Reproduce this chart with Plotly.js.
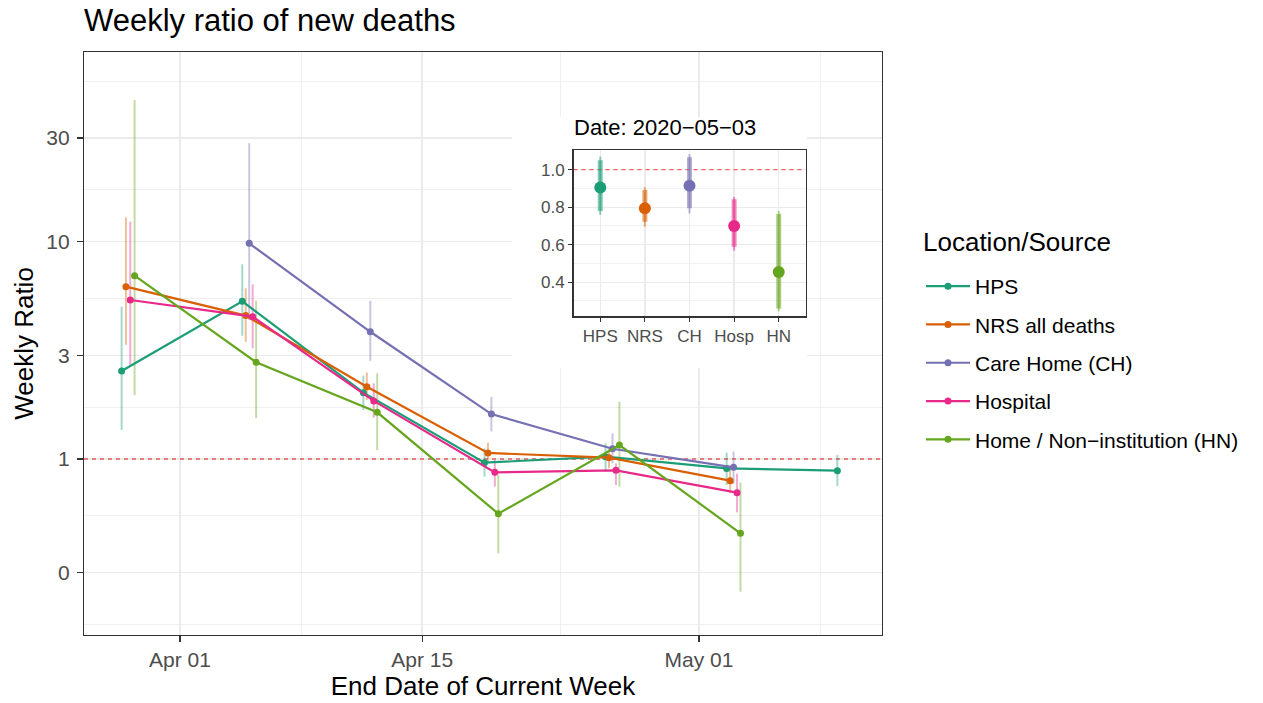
<!DOCTYPE html>
<html><head><meta charset="utf-8">
<script src="https://cdn.plot.ly/plotly-3.0.1.min.js"></script>
<style>html,body{margin:0;padding:0;background:#fff}</style>
</head><body><div id="chart" style="width:1263px;height:703px"></div>
<script>
// ---- data ----
const weekDates = ['2020-03-29','2020-04-05','2020-04-12','2020-04-19','2020-04-26','2020-05-03','2020-05-09'];
const seriesNames = ['HPS','NRS all deaths','Care Home (CH)','Hospital','Home / Non\u2212institution (HN)'];
const seriesColors = ['#1B9E77','#D95F02','#7570B3','#E7298A','#66A61E'];

const hpsRatio = [2.54, 5.32, 2.02, 0.962, 1.025, 0.905, 0.884];
const hpsLo    = [1.36, 3.69, 1.68, 0.83, 0.874, 0.76, 0.751];
const hpsHi    = [5.02, 7.87, 2.42, 1.12, 1.18, 1.07, 1.043];

const nrsRatio = [6.21, 4.57, 2.15, 1.066, 1.014, 0.795, null];
const nrsLo    = [3.35, 3.46, 1.87, 0.96, 0.906, 0.696, null];
const nrsHi    = [12.95, 6.1, 2.50, 1.19, 1.12, 0.906, null];

const chRatio  = [null, 9.83, 3.85, 1.61, 1.115, 0.915, null];
const chLo     = [null, 4.36, 2.83, 1.34, 0.955, 0.767, null];
const chHi     = [null, 28.4, 5.35, 1.93, 1.31, 1.082, null];

const hospRatio = [5.39, 4.52, 1.85, 0.868, 0.887, 0.70, null];
const hospLo    = [2.71, 3.23, 1.55, 0.746, 0.759, 0.568, null];
const hospHi    = [12.36, 6.37, 2.23, 0.99, 0.955, 0.856, null];

const hnRatio = [6.98, 2.79, 1.64, 0.56, 1.16, 0.455, null];
const hnLo    = [1.97, 1.54, 1.10, 0.368, 0.746, 0.245, null];
const hnHi    = [44.9, 5.35, 2.48, 0.844, 1.835, 0.78, null];

const insetDate = '2020-05-03';
const insetLabels = ['HPS','NRS','CH','Hosp','HN'];
const insetInnerLo = [0.78, 0.723, 0.794, 0.589, 0.26];
const insetInnerHi = [1.05, 0.892, 1.066, 0.842, 0.764];

const xTickDates = ['2020-04-01','2020-04-15','2020-05-01'];
const xTickLabels = ['Apr 01','Apr 15','May 01'];
const xMinorDates = ['2020-04-08','2020-04-23','2020-05-08'];
const yTickValues = [0.3, 1, 3, 10, 30];
const yTickLabels = ['0','1','3','10','30'];
const yMinorValues = [0.1734, 0.5477, 1.732, 5.477, 17.32, 54.77];
const insetYTicks = [0.4, 0.6, 0.8, 1.0];
const insetYTickLabels = ['0.4','0.6','0.8','1.0'];
const insetYMinor = [0.3, 0.5, 0.7, 0.9, 1.1];

// ---- build ----
const DAY = 86400000;
function rgba(hex, a){
  const n = parseInt(hex.slice(1),16);
  return 'rgba(' + ((n>>16)&255) + ',' + ((n>>8)&255) + ',' + (n&255) + ',' + a + ')';
}
const series = [
  {ratio: hpsRatio, lo: hpsLo, hi: hpsHi},
  {ratio: nrsRatio, lo: nrsLo, hi: nrsHi},
  {ratio: chRatio, lo: chLo, hi: chHi},
  {ratio: hospRatio, lo: hospLo, hi: hospHi},
  {ratio: hnRatio, lo: hnLo, hi: hnHi}
];
series.forEach((s,i)=>{ s.name = seriesNames[i]; s.color = seriesColors[i]; });

const dateMs = weekDates.map(d => Date.parse(d));
const xPos = series.map(() => []);
weekDates.forEach((d, j) => {
  const present = [];
  series.forEach((s, i) => { if (s.ratio[j] != null) present.push(i); });
  const n = present.length;
  present.forEach((i, k) => { xPos[i][j] = dateMs[j] + (k - (n - 1) / 2) * DAY / n; });
});

const traces = [];
// error bars (below lines)
series.forEach((s, i) => {
  const xs = [], ys = [];
  weekDates.forEach((d, j) => {
    if (s.ratio[j] != null) { xs.push(xPos[i][j], xPos[i][j], null); ys.push(s.lo[j], s.hi[j], null); }
  });
  traces.push({type:'scatter', mode:'lines', x:xs, y:ys, xaxis:'x', yaxis:'y',
    line:{color:rgba(s.color,0.4), width:2}, showlegend:false, hoverinfo:'skip'});
});
// lines + points
series.forEach((s, i) => {
  const xs = [], ys = [];
  weekDates.forEach((d, j) => { if (s.ratio[j] != null) { xs.push(xPos[i][j]); ys.push(s.ratio[j]); } });
  traces.push({type:'scatter', mode:'lines+markers', name:s.name, legendgroup:s.name,
    x:xs, y:ys, xaxis:'x', yaxis:'y',
    line:{color:s.color, width:2.2}, marker:{color:s.color, size:7}});
});

// inset
const jIn = weekDates.indexOf(insetDate);
series.forEach((s, i) => {
  traces.push({type:'scatter', mode:'lines', x:[insetLabels[i], insetLabels[i]], y:[s.lo[jIn], s.hi[jIn]],
    xaxis:'x2', yaxis:'y2', line:{color:rgba(s.color,0.5), width:2}, showlegend:false, hoverinfo:'skip'});
  traces.push({type:'scatter', mode:'lines', x:[insetLabels[i], insetLabels[i]], y:[insetInnerLo[i], insetInnerHi[i]],
    xaxis:'x2', yaxis:'y2', line:{color:rgba(s.color,0.55), width:5}, showlegend:false, hoverinfo:'skip'});
});
traces.push({type:'scatter', mode:'markers', x:insetLabels, y:series.map(s => s.ratio[jIn]),
  xaxis:'x2', yaxis:'y2', marker:{color:seriesColors, size:12}, showlegend:false, hoverinfo:'skip'});

// geometry
const L = 84, R = 882, T = 52, B = 635;
const xRange = [Date.parse('2020-04-01') - 5.55*DAY, Date.parse('2020-05-01') + 10.58*DAY];
const yRange = [-0.81, 1.873];
function pxToX(px){ return xRange[0] + (px - L)/(R - L)*(xRange[1]-xRange[0]); }
function pxToY(py){ return Math.pow(10, yRange[0] + (B - py)/(B - T)*(yRange[1]-yRange[0])); }
function px2paperX(px){ return (px - L)/(R - L); }
function px2paperY(py){ return (B - py)/(B - T); }

const axisCommon = {
  showline:true, mirror:true, linecolor:'#333333', linewidth:1.1,
  ticks:'outside', ticklen:6, tickwidth:1.1, tickcolor:'#333333',
  showgrid:true, gridcolor:'#EBEBEB', gridwidth:1.5, zeroline:false
};

const layout = {
  width:1263, height:703,
  margin:{l:L, r:1263-R, t:T, b:703-B, pad:0},
  paper_bgcolor:'#ffffff', plot_bgcolor:'#ffffff',
  font:{family:'Liberation Sans, Arial, sans-serif', color:'#000000'},
  title:{text:'Weekly ratio of new deaths', x:px2paperX(84), xref:'paper', xanchor:'left',
    y:1-20/703, yref:'container', yanchor:'middle', font:{size:31, color:'#000000'}},
  xaxis:Object.assign({}, axisCommon, {
    type:'date', range:xRange, domain:[0,1], anchor:'y',
    tickmode:'array', tickvals:xTickDates.map(d=>Date.parse(d)), ticktext:xTickLabels,
    tickfont:{size:21, color:'#4D4D4D'},
    minor:{tickmode:'array', tickvals:xMinorDates.map(d=>Date.parse(d)), showgrid:true, gridcolor:'#EBEBEB', gridwidth:0.8, ticks:''},
    title:{text:'End Date of Current Week', font:{size:26, color:'#000000'}, standoff:6}
  }),
  yaxis:Object.assign({}, axisCommon, {
    type:'log', range:yRange, domain:[0,1], anchor:'x',
    tickmode:'array', tickvals:yTickValues, ticktext:yTickLabels,
    tickfont:{size:21, color:'#4D4D4D'}, ticklabelstandoff:3,
    minor:{tickmode:'array', tickvals:yMinorValues, showgrid:true, gridcolor:'#EBEBEB', gridwidth:0.8, ticks:''},
    title:{text:'Weekly Ratio', font:{size:26, color:'#000000'}, standoff:5}
  }),
  xaxis2:Object.assign({}, axisCommon, {
    type:'category', categoryorder:'array', categoryarray:insetLabels,
    range:[-0.6, 4.6], domain:[px2paperX(573.5), px2paperX(805.5)], anchor:'y2',
    linewidth:1.5, ticklen:4, gridwidth:1.3, tickfont:{size:17, color:'#4D4D4D'}
  }),
  yaxis2:Object.assign({}, axisCommon, {
    range:[0.22, 1.105], domain:[px2paperY(316), px2paperY(150)], anchor:'x2',
    linewidth:1.5, ticklen:4, gridwidth:1.3,
    tickmode:'array', tickvals:insetYTicks, ticktext:insetYTickLabels,
    tickfont:{size:17, color:'#4D4D4D'},
    minor:{tickmode:'array', tickvals:insetYMinor, showgrid:true, gridcolor:'#EBEBEB', gridwidth:0.7, ticks:''}
  }),
  legend:{x:px2paperX(921), xanchor:'left', y:px2paperY(266), yanchor:'top',
    font:{size:21, color:'#000000'}, itemwidth:44, tracegroupgap:8,
    bgcolor:'rgba(0,0,0,0)'},
  shapes:[
    {type:'rect', xref:'x', yref:'y', layer:'between',
      x0:pxToX(512), x1:pxToX(807), y0:pxToY(368), y1:pxToY(117),
      fillcolor:'#ffffff', line:{width:0}},
    {type:'line', xref:'x', yref:'y', layer:'between',
      x0:xRange[0], x1:xRange[1], y0:1, y1:1,
      line:{color:'rgb(225,20,20)', width:1, dash:'4px,4px'}},
    {type:'line', xref:'x2', yref:'y2', layer:'between',
      x0:-0.6, x1:4.6, y0:1, y1:1,
      line:{color:'rgba(240,60,60,0.8)', width:1.2, dash:'4px,4px'}}
  ],
  annotations:[
    {text:'Date: 2020\u221205\u221203', xref:'paper', yref:'paper',
      x:px2paperX(572), y:px2paperY(127), xanchor:'left', yanchor:'middle',
      showarrow:false, font:{size:22, color:'#000000'}},
    {text:'Location/Source', xref:'paper', yref:'paper',
      x:px2paperX(921), y:px2paperY(242), xanchor:'left', yanchor:'middle',
      showarrow:false, font:{size:26, color:'#000000'}}
  ]
};

Plotly.newPlot('chart', traces, layout, {displayModeBar:false, staticPlot:true});
</script>
</body></html>
